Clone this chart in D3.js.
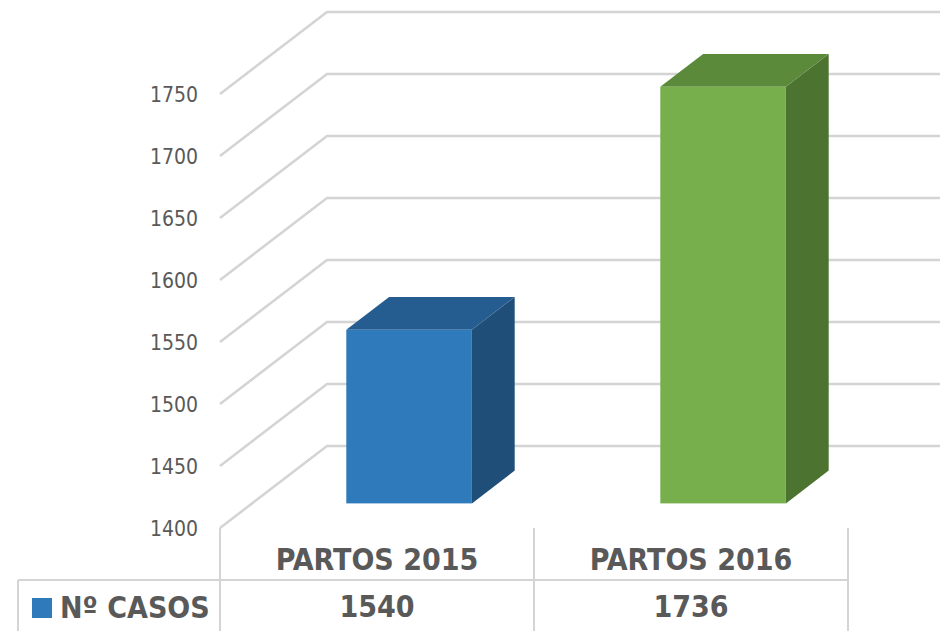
<!DOCTYPE html>
<html lang="es">
<head>
  <meta charset="UTF-8">
  <title>Partos 2015 - 2016</title>
  <style>
    body { margin: 0; background: #fff; }
    .chart text {
      font-family: "DejaVu Sans Condensed", "DejaVu Sans", sans-serif;
      font-stretch: condensed;
      fill: #595959;
    }
    .tick-label { font-size: 21px; }
    .cell { font-size: 30px; font-weight: bold; }
    .grid { fill: none; stroke: #d4d4d4; stroke-width: 2.5; }
    .table-line { stroke: #d4d4d4; stroke-width: 2; shape-rendering: crispEdges; }
  </style>
</head>
<body>
  <svg class="chart"></svg>
  <script src="https://cdn.jsdelivr.net/npm/d3@7"></script>
  <script>
    var categories = ["PARTOS 2015", "PARTOS 2016"];
    var casos = [1540, 1736];
    var seriesName = "Nº CASOS";
    var yTicks = [1400, 1450, 1500, 1550, 1600, 1650, 1700, 1750];

    // face colours per bar: front, top, side
    var faceColors = [
      {front: "#2e7aba", top: "#255d90", side: "#1f4e79"},
      {front: "#77af4c", top: "#5c8a3b", side: "#4d7331"}
    ];

    var width = 940, height = 631;
    var depth = {dx: 107, dy: -82};     // full depth of the 3d floor
    var barDepth = [0.3, 0.7];           // bar sits in the middle of the depth

    var svg = d3.select(".chart")
      .attr("width", width)
      .attr("height", height);

    var x = d3.scaleBand()
      .domain(categories)
      .range([220, 848]);

    var y = d3.scaleLinear()
      .domain([1400, 1750])
      .range([528, 94]);

    // walls: diagonal on the left side wall, horizontal on the back wall
    var grid = svg.append("g");
    grid.selectAll("path")
      .data(yTicks)
      .enter().append("path")
      .attr("class", "grid")
      .attr("d", function(d) {
        var x0 = x.range()[0], y0 = y(d);
        return "M" + x0 + "," + y0 +
          "L" + (x0 + depth.dx) + "," + (y0 + depth.dy) +
          "L" + (width + 10) + "," + (y0 + depth.dy);
      });

    grid.selectAll("text")
      .data(yTicks)
      .enter().append("text")
      .attr("class", "tick-label")
      .attr("x", 198)
      .attr("y", function(d) { return y(d); })
      .attr("dy", "0.36em")
      .attr("text-anchor", "end")
      .text(function(d) { return d; });

    // 3d bars
    var bw = x.bandwidth() * 0.4;
    var fx = depth.dx * barDepth[0], fy = depth.dy * barDepth[0];
    var bdx = depth.dx * (barDepth[1] - barDepth[0]);
    var bdy = depth.dy * (barDepth[1] - barDepth[0]);

    var bars = svg.append("g").selectAll("g")
      .data(casos)
      .enter().append("g");

    function pts(a) {
      return a.map(function(p) { return p.join(","); }).join(" ");
    }

    bars.each(function(d, i) {
      var g = d3.select(this);
      var cx = x(categories[i]) + x.bandwidth() / 2;
      var x0 = cx - bw / 2 + fx, x1 = cx + bw / 2 + fx;
      var yb = y(1400) + fy, yt = y(d) + fy;
      var c = faceColors[i];

      g.append("polygon")
        .attr("fill", c.side)
        .attr("points", pts([[x1, yt], [x1 + bdx, yt + bdy], [x1 + bdx, yb + bdy], [x1, yb]]));
      g.append("polygon")
        .attr("fill", c.top)
        .attr("points", pts([[x0, yt], [x0 + bdx, yt + bdy], [x1 + bdx, yt + bdy], [x1, yt]]));
      g.append("rect")
        .attr("fill", c.front)
        .attr("x", x0)
        .attr("y", yt)
        .attr("width", bw)
        .attr("height", yb - yt);
    });

    // data table under the chart
    var table = svg.append("g");
    var rowTop = 528, rowMid = 580;
    var lines = [
      [x.range()[0], rowTop, x.range()[0], height + 5],
      [x.range()[1], rowTop, x.range()[1], height + 5],
      [18, rowMid, x.range()[1], rowMid],
      [18, rowMid, 18, height + 5]
    ];
    categories.slice(1).forEach(function(c) {
      lines.push([x(c), rowTop, x(c), height + 5]);
    });
    table.selectAll("line")
      .data(lines)
      .enter().append("line")
      .attr("class", "table-line")
      .attr("x1", function(d) { return d[0]; })
      .attr("y1", function(d) { return d[1]; })
      .attr("x2", function(d) { return d[2]; })
      .attr("y2", function(d) { return d[3]; });

    table.selectAll("text.head")
      .data(categories)
      .enter().append("text")
      .attr("class", "cell head")
      .attr("x", function(d) { return x(d) + x.bandwidth() / 2; })
      .attr("y", 570)
      .attr("text-anchor", "middle")
      .text(function(d) { return d; });

    table.selectAll("text.val")
      .data(casos)
      .enter().append("text")
      .attr("class", "cell val")
      .attr("x", function(d, i) { return x(categories[i]) + x.bandwidth() / 2; })
      .attr("y", 617)
      .attr("text-anchor", "middle")
      .text(function(d) { return d; });

    table.append("rect")
      .attr("x", 32)
      .attr("y", 598)
      .attr("width", 20)
      .attr("height", 20)
      .attr("fill", faceColors[0].front);

    table.append("text")
      .attr("class", "cell")
      .attr("x", 60)
      .attr("y", 618)
      .text(seriesName);
  </script>
</body>
</html>
